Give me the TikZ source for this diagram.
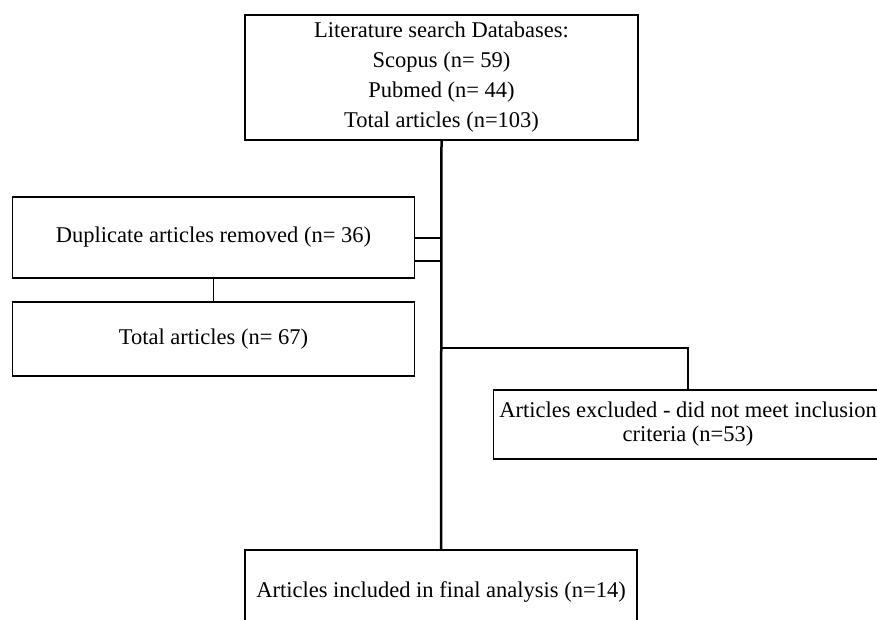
\documentclass[tikz,border=0pt]{standalone}
\usepackage{fontspec}
\setmainfont{Liberation Serif}
\usepackage{tikz}

\begin{document}
\begin{tikzpicture}[
        x=1pt, y=-1pt,
        box/.style={rectangle, draw=black, line width=1.5pt, align=center, inner sep=0pt, font=\fontsize{22.5}{30}\selectfont},
        link/.style={draw=black, line width=1.5pt},
        trunk/.style={draw=black, line width=2.5pt}
    ]
    \clip (0,0) rectangle (877,619);
    \fill[white] (0,0) rectangle (877,619);

    % Boxes
    \node[box, minimum width=393, minimum height=125] (search) at (441.5, 77.5) {Literature search Databases:\\ Scopus (n= 59)\\ Pubmed (n= 44)\\ Total articles (n=103)};
    \node[box, minimum width=402, minimum height=81] (dupes) at (213.5, 237.5) {Duplicate articles removed (n= 36)};
    \node[box, minimum width=402, minimum height=74] (screened) at (213.5, 339) {Total articles (n= 67)};
    \node[box, minimum width=389, minimum height=69, font=\fontsize{22.5}{24}\selectfont] (excluded) at (688, 424.5) {Articles excluded - did not meet inclusion\\ criteria (n=53)};
    \node[box, minimum width=392, minimum height=84] (included) at (441, 592) {Articles included in final analysis (n=14)};

    % Junctions on the main line
    \coordinate (joinA) at (441.5, 238);
    \coordinate (joinB) at (441.5, 261);
    \coordinate (joinC) at (441.5, 348);

    % Main line
    \draw[trunk] (search.south) -- (included.north);

    % Side links
    \draw[link] (dupes.east |- joinA) -- (joinA);
    \draw[link] (dupes.east |- joinB) -- (joinB);
    \draw[link] (dupes.south) -- (screened.north);
    \draw[link] (joinC) -| (excluded.north);

    \end{tikzpicture}
\end{document}
